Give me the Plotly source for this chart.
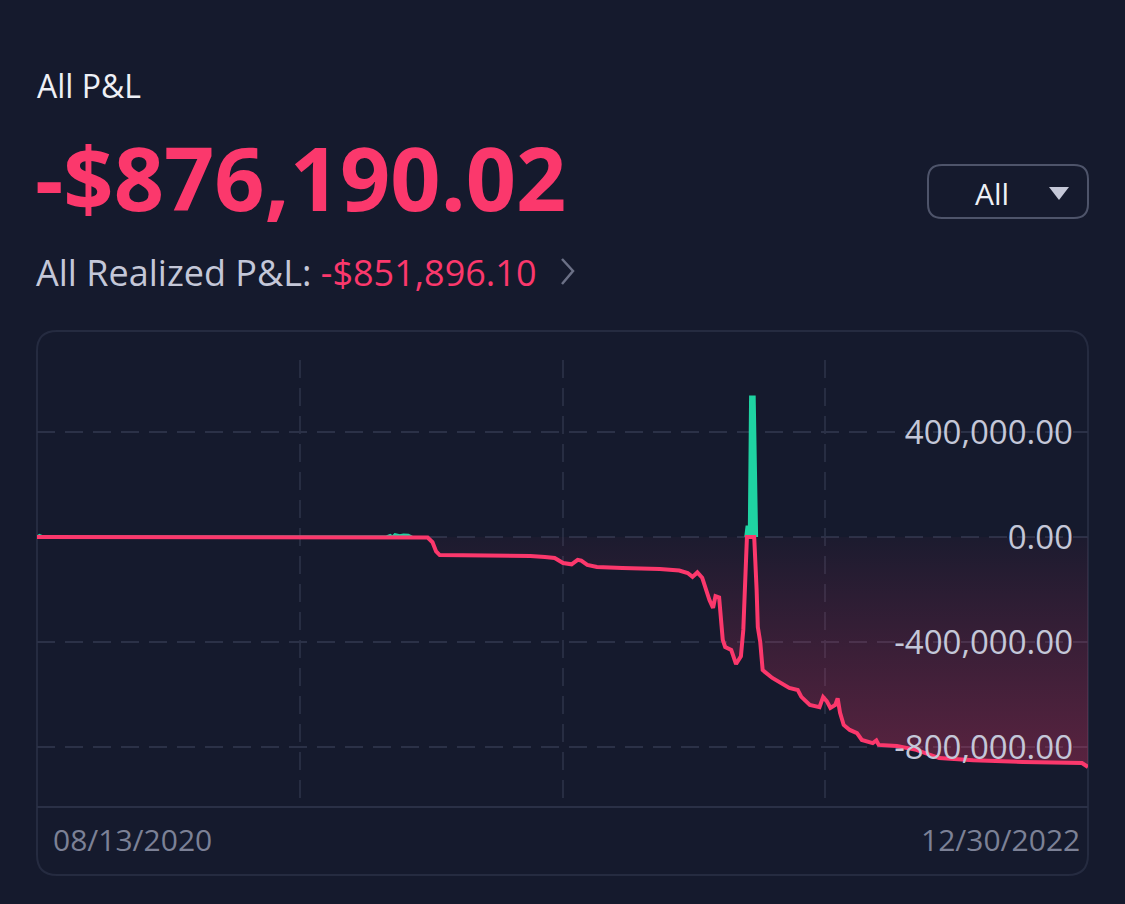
import pandas as pd
import plotly.graph_objects as go

# ----------------------------------------------------------------------------
# Data read off the P&L chart
# ----------------------------------------------------------------------------

dates = [
    "2020-08-13", "2020-08-15", "2020-08-18", "2021-05-29", "2021-06-01",
    "2021-06-03", "2021-06-05", "2021-06-09", "2021-06-12", "2021-06-16",
    "2021-06-19", "2021-07-02", "2021-07-06", "2021-07-09", "2021-07-12",
    "2021-08-30", "2021-09-25", "2021-10-07", "2021-10-15", "2021-10-22",
    "2021-10-29", "2021-11-03", "2021-11-06", "2021-11-11", "2021-11-19",
    "2021-12-10", "2022-01-10", "2022-01-26", "2022-02-02", "2022-02-06",
    "2022-02-10", "2022-02-14", "2022-02-18", "2022-02-20", "2022-02-23",
    "2022-02-25", "2022-02-28", "2022-03-03", "2022-03-05", "2022-03-10",
    "2022-03-14", "2022-03-18", "2022-03-20", "2022-03-22", "2022-03-23",
    "2022-03-25", "2022-03-26", "2022-03-29", "2022-03-31", "2022-04-01",
    "2022-04-03", "2022-04-05", "2022-04-13", "2022-04-27", "2022-05-04",
    "2022-05-07", "2022-05-14", "2022-05-22", "2022-05-25", "2022-05-28",
    "2022-05-31", "2022-06-04", "2022-06-06", "2022-06-08", "2022-06-11",
    "2022-06-16", "2022-06-22", "2022-06-26", "2022-07-05", "2022-07-08",
    "2022-07-10", "2022-07-25", "2022-08-10", "2022-08-29", "2022-09-26",
    "2022-11-06", "2022-12-25", "2022-12-30",
]

pnl = [
    0, 6000, 0, 0, 6000,
    -2000, 9000, 5000, 8000, 7000,
    0, -2000, -20000, -55000, -69000,
    -70000, -72000, -76000, -80000, -99000,
    -104000, -87000, -90000, -106000, -114000,
    -118000, -122000, -128000, -137000, -152000,
    -135000, -155000, -220000, -240000, -270000,
    -225000, -230000, -392000, -419000, -430000,
    -484000, -455000, -354000, -90000, 38000,
    38000, 533000, 533000, -200000, -343000,
    -400000, -507000, -537000, -575000, -583000,
    -609000, -640000, -648000, -610000, -625000,
    -651000, -640000, -615000, -670000, -716000,
    -735000, -747000, -773000, -785000, -775000,
    -792000, -796000, -811000, -842000, -850000,
    -857000, -861000, -876190.02,
]

y_ticks = [-800000, -400000, 0, 400000]
y_tick_text = ["-800,000.00", "-400,000.00", "0.00", "400,000.00"]
date_labels = ["08/13/2020", "12/30/2022"]

total_pnl = "-$876,190.02"
realized_pnl = "-$851,896.10"

# ----------------------------------------------------------------------------
# Style
# ----------------------------------------------------------------------------

W, H = 1125, 904
BG = "#151a2d"
PINK = "#fb386c"
GREEN = "#1fd3a2"
FONT = "Open Sans"


def px(x):
    return x / W


def py(y):
    return 1 - y / H


def rounded_rect(x0, y0, x1, y1, r):
    return (
        f"M {px(x0 + r)},{py(y0)} L {px(x1 - r)},{py(y0)} "
        f"Q {px(x1)},{py(y0)} {px(x1)},{py(y0 + r)} L {px(x1)},{py(y1 - r)} "
        f"Q {px(x1)},{py(y1)} {px(x1 - r)},{py(y1)} L {px(x0 + r)},{py(y1)} "
        f"Q {px(x0)},{py(y1)} {px(x0)},{py(y1 - r)} L {px(x0)},{py(y0 + r)} "
        f"Q {px(x0)},{py(y0)} {px(x0 + r)},{py(y0)} Z"
    )


s = pd.Series(pnl, index=pd.to_datetime(dates))
loss = s.clip(upper=0)

# green only around the stretches that are above zero
pos = s > 0
near_pos = pos | pos.shift(1, fill_value=False) | pos.shift(-1, fill_value=False)
gain = s.clip(lower=0).where(near_pos)

start, end = s.index[0], s.index[-1]
grid_x = [start + (end - start) * k / 4 for k in (1, 2, 3)]

# plot area in pixels: x 37..1088, y 360..806 ; 105px per 400k
y_lo = -(806 - 537) / 105 * 400000
y_hi = (537 - 360) / 105 * 400000

fig = go.Figure()

fig.add_trace(go.Scatter(
    x=s.index, y=gain, mode="lines",
    line=dict(color=GREEN, width=3),
    fill="tozeroy", fillcolor=GREEN, connectgaps=False,
    hoverinfo="skip", showlegend=False,
))
fig.add_trace(go.Scatter(
    x=s.index, y=loss, mode="lines",
    line=dict(color=PINK, width=4),
    fill="tozeroy",
    fillgradient=dict(
        type="vertical",
        colorscale=[[0, "rgba(251,56,108,0.30)"], [1, "rgba(251,56,108,0.03)"]],
    ),
    showlegend=False,
))

fig.update_layout(
    width=W, height=H,
    margin=dict(l=0, r=0, t=0, b=0),
    paper_bgcolor=BG,
    plot_bgcolor="rgba(0,0,0,0)",
    font=dict(family=FONT),
    xaxis=dict(
        domain=[px(37), px(1088)],
        range=[start, end],
        tickmode="array", tickvals=grid_x,
        showticklabels=False, ticks="",
        showgrid=True, gridcolor="#272d42", gridwidth=1.5, griddash="18px,10px",
        showline=True, linecolor="#2a3046", linewidth=2,
        zeroline=False, fixedrange=True,
    ),
    yaxis=dict(
        domain=[py(806), py(360)],
        range=[y_lo, y_hi],
        side="right",
        tickmode="array", tickvals=y_ticks, ticktext=y_tick_text,
        ticklabelposition="inside", ticklabelstandoff=12, ticks="",
        tickfont=dict(size=33, color="#c4c7d8", family=FONT),
        showgrid=True, gridcolor="#2b3147", gridwidth=1.5, griddash="18px,10px",
        zeroline=False, showline=False, fixedrange=True,
    ),
)

# chart frame, dropdown, chevron and caret
fig.add_shape(type="path", path=rounded_rect(37, 331, 1088, 875, 20),
              xref="paper", yref="paper", line=dict(color="#252b40", width=2),
              layer="below")
fig.add_shape(type="path", path=rounded_rect(928, 165, 1088, 218, 14),
              xref="paper", yref="paper", line=dict(color="#4e546a", width=2))
fig.add_shape(type="path",
              path=f"M {px(1049)},{py(187)} L {px(1069)},{py(187)} L {px(1059)},{py(200)} Z",
              xref="paper", yref="paper", fillcolor="#c5c8d8", line=dict(width=0))
fig.add_shape(type="path",
              path=f"M {px(562)},{py(259)} L {px(573)},{py(271)} L {px(562)},{py(284)}",
              xref="paper", yref="paper", line=dict(color="#6b7086", width=2.5))

# header text
fig.add_annotation(text="All P&L", x=px(35), y=py(86), xref="paper", yref="paper",
                   xanchor="left", yanchor="middle", showarrow=False,
                   font=dict(size=32, color="#eef0f6"))
fig.add_annotation(text=f"<b>{total_pnl}</b>", x=px(33), y=py(177),
                   xref="paper", yref="paper", xanchor="left", yanchor="middle",
                   showarrow=False, font=dict(size=88, color=PINK))
fig.add_annotation(
    text=f"All Realized P&L: <span style='color:{PINK}'>{realized_pnl}</span>",
    x=px(34), y=py(272), xref="paper", yref="paper",
    xanchor="left", yanchor="middle", showarrow=False,
    font=dict(size=36, color="#c4c7d8"))
fig.add_annotation(text="All", x=px(992), y=py(193), xref="paper", yref="paper",
                   xanchor="center", yanchor="middle", showarrow=False,
                   font=dict(size=30, color="#eef0f6"))

# date labels at the ends of the x range
fig.add_annotation(text=date_labels[0], x=px(51), y=py(839), xref="paper", yref="paper",
                   xanchor="left", yanchor="middle", showarrow=False,
                   font=dict(size=30, color="#7c8196"))
fig.add_annotation(text=date_labels[1], x=px(1082), y=py(839), xref="paper", yref="paper",
                   xanchor="right", yanchor="middle", showarrow=False,
                   font=dict(size=30, color="#7c8196"))

fig.write_html(
    "out.html",
    config={"displayModeBar": False},
    post_script=f"document.body.style.margin='0';document.body.style.background='{BG}';",
)
